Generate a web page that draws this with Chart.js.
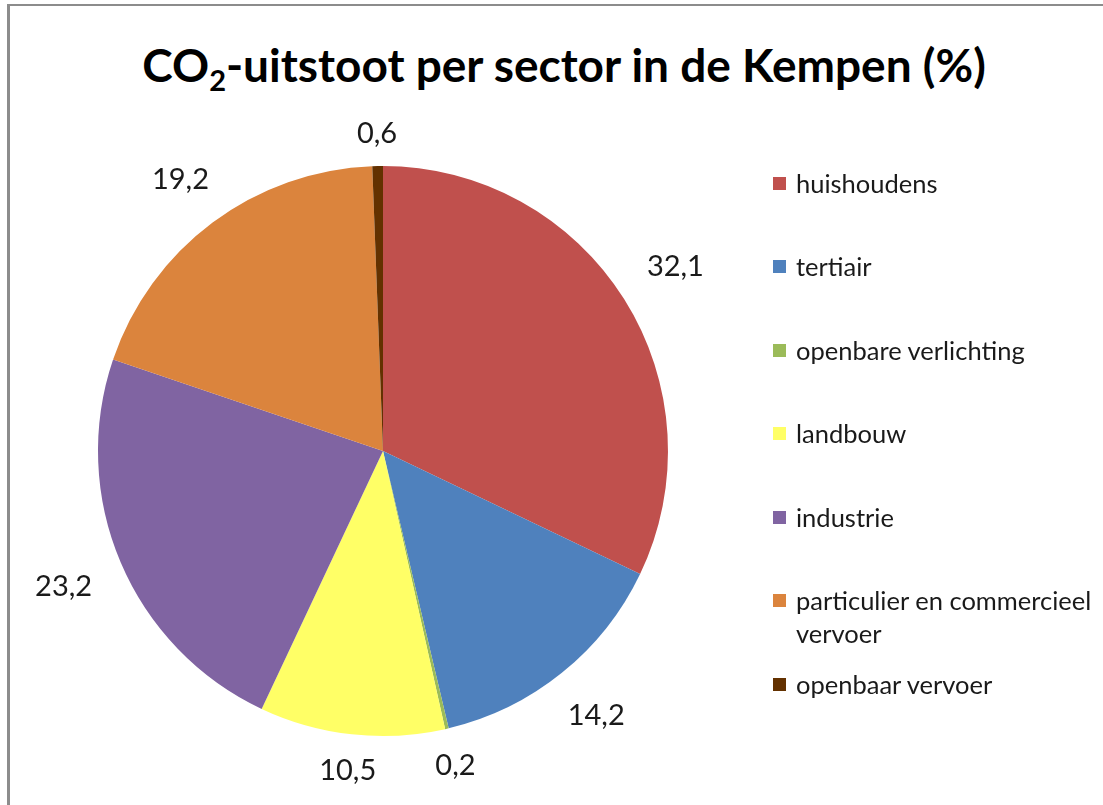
<!DOCTYPE html>
<html>
<head>
<meta charset="utf-8">
<script src="https://cdn.jsdelivr.net/npm/chart.js@4"></script>
<style>
    body { margin: 0; background: #fff; }
    #wrap { position: relative; width: 1103px; height: 805px; overflow: hidden; }
    #frame { position: absolute; left: 7px; top: 4px; right: -10px; bottom: -10px;
             border-top: 2px solid #8c8c8c; border-left: 3px solid #8c8c8c; }
    #titel { position: absolute; left: 564px; top: 38px; transform: translateX(-50%);
             font: bold 46px Lato, sans-serif; color: #000; white-space: nowrap; line-height: 54px; }
    #titel sub { font-size: 29px; vertical-align: -9px; line-height: 0; }
    #chart { position: absolute; left: 0; top: 0; }
    .leg { position: absolute; left: 773px; font: 25.5px Lato, sans-serif; color: #1a1a1a; line-height: 33px; }
    .leg span.box { position: absolute; left: 0; top: 10px; width: 13px; height: 13px; }
    .leg span.txt { display: block; margin-left: 23px; width: 310px; }
</style>
</head>
<body>
<div id="wrap">
    <div id="frame"></div>
    <div id="titel">CO<sub>2</sub>-uitstoot per sector in de Kempen (%)</div>
    <canvas id="chart" width="1103" height="805"></canvas>
    <div id="legenda"></div>
</div>
<script>
const sectoren = ['huishoudens', 'tertiair', 'openbare verlichting', 'landbouw', 'industrie', 'particulier en commercieel vervoer', 'openbaar vervoer'];
const aandeel = [32.1, 14.2, 0.2, 10.5, 23.2, 19.2, 0.6];
const kleuren = ['#C0504D', '#4F81BD', '#9BBB59', '#FFFF66', '#8064A2', '#DB843D', '#633100'];

// labels buiten de taart
const buitenLabels = {
    id: 'buitenLabels',
    afterDatasetsDraw(chart) {
        const ctx = chart.ctx;
        const meta = chart.getDatasetMeta(0);
        ctx.save();
        ctx.font = '29px Lato, sans-serif';
        ctx.fillStyle = '#1a1a1a';
        ctx.textAlign = 'center';
        ctx.textBaseline = 'middle';
        meta.data.forEach((arc, i) => {
            const p = arc.getProps(['x', 'y', 'startAngle', 'endAngle', 'outerRadius'], true);
            const mid = (p.startAngle + p.endAngle) / 2;
            const tekst = aandeel[i].toFixed(1).replace('.', ',');
            const w = ctx.measureText(tekst).width;
            const h = 22;
            const afst = p.outerRadius + 21 + Math.abs(Math.cos(mid)) * w * 0.7 + Math.abs(Math.sin(mid)) * h / 2;
            ctx.fillText(tekst, p.x + Math.cos(mid) * afst, p.y + Math.sin(mid) * afst);
        });
        ctx.restore();
    }
};

new Chart(document.getElementById('chart'), {
    type: 'pie',
    data: {
        labels: sectoren,
        datasets: [{
            data: aandeel,
            backgroundColor: kleuren,
            borderWidth: 0
        }]
    },
    options: {
        responsive: false,
        animation: false,
        layout: { padding: { left: 98, right: 435, top: 166, bottom: 69 } },
        plugins: {
            legend: { display: false },
            tooltip: { enabled: false }
        }
    },
    plugins: [buitenLabels]
});

// legenda
const legenda = document.getElementById('legenda');
sectoren.forEach((naam, i) => {
    const item = document.createElement('div');
    item.className = 'leg';
    item.style.top = (183 - 16.5 + i * 83.5) + 'px';
    item.innerHTML = '<span class="box" style="background:' + kleuren[i] + '"></span><span class="txt">' + naam + '</span>';
    legenda.appendChild(item);
});
</script>
</body>
</html>
